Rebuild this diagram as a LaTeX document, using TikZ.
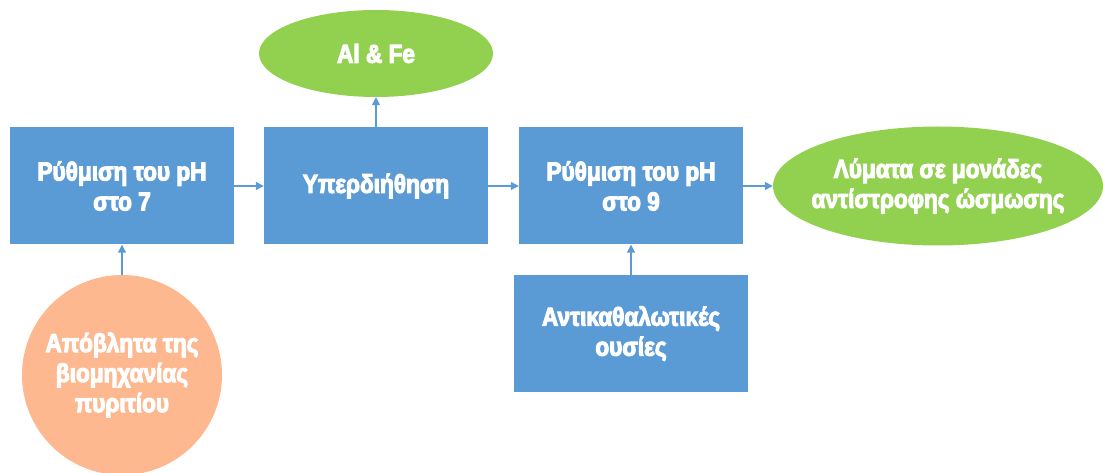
\documentclass[tikz,border=0pt]{standalone}
\usepackage{fontspec}
\newfontfamily\lblfont{Liberation Sans}[FakeStretch=0.87, FakeBold=4, BoldFont={Liberation Sans Bold}, BoldFeatures={FakeStretch=0.87, FakeBold=4}]
\usetikzlibrary{shapes.geometric,arrows.meta}
\definecolor{boxblue}{HTML}{5B9BD5}
\definecolor{leafgreen}{HTML}{92D050}
\definecolor{peach}{HTML}{FDB88F}
\definecolor{linkblue}{HTML}{5B9BD5}
\tikzset{
  lbl/.style={text=white, font=\lblfont\bfseries\fontsize{26}{30}\selectfont, align=center, inner sep=0pt},
  stepbox/.style={lbl, fill=boxblue, minimum width=224pt, minimum height=117pt},
  product/.style={ellipse, fill=leafgreen, inner sep=0pt},
  feed/.style={lbl, circle, fill=peach, minimum size=200pt},
  link/.style={draw=linkblue, line width=1.3pt, -{Triangle[length=8pt,width=8pt]}}
}
\begin{document}
\begin{tikzpicture}[x=1pt,y=-1pt]
  \useasboundingbox (0,0) rectangle (1103,473);
  % process steps
  \node[stepbox] (ph7) at (122,186) {Ρύθμιση του pH\\στο 7};
  \node[stepbox] (uf)  at (376,186) {Υπερδιήθηση};
  \node[stepbox] (ph9) at (631,186) {Ρύθμιση του pH\\στο 9};
  \node[stepbox, minimum width=234pt] (anti) at (631,333.5) {Αντικαθαλωτικές\\ουσίες};
  % outputs: ellipse shapes with their labels on top
  \node[product, minimum width=234pt, minimum height=87pt] (metals) at (376,53.5) {};
  \node[lbl] (metals-text) at (metals.center) {Al \& Fe};
  \node[product, minimum width=330pt, minimum height=119pt] (ro) at (938,186) {};
  \node[lbl] (ro-text) at (ro.center) {Λύματα σε μονάδες\\αντίστροφης ώσμωσης};
  % feed
  \node[feed] (waste) at (122,375) {Απόβλητα της\\βιομηχανίας\\πυριτίου};
  % flow
  \draw[link] (ph7) -- (uf);
  \draw[link] (uf) -- (ph9);
  \draw[link] (ph9) -- (ro);
  \draw[link] (uf) -- (metals);
  \draw[link] (anti) -- (ph9);
  \draw[link] (waste) -- (ph7);
\end{tikzpicture}
\end{document}
